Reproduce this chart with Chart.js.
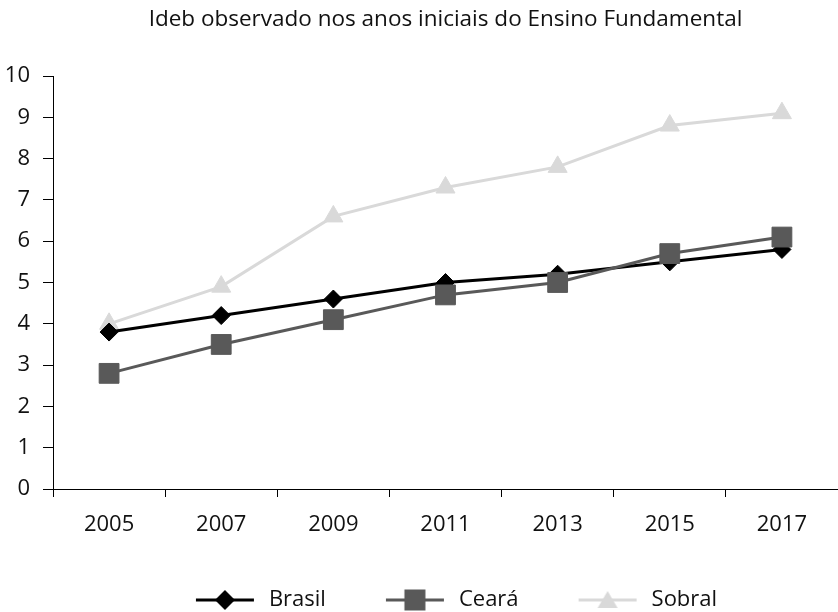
<!DOCTYPE html>
<html>
<head>
<meta charset="utf-8">
<script src="https://cdn.jsdelivr.net/npm/chart.js@4/dist/chart.umd.min.js"></script>
<style>
  html, body { margin: 0; padding: 0; background: #fff; overflow: hidden; }
  #wrap { width: 838px; height: 612px; }
</style>
</head>
<body>
<div id="wrap"><canvas id="idebChart"></canvas></div>
<script>
const years = ["2005", "2007", "2009", "2011", "2013", "2015", "2017"];
const brasil = [3.8, 4.2, 4.6, 5.0, 5.2, 5.5, 5.8];
const ceara = [2.8, 3.5, 4.1, 4.7, 5.0, 5.7, 6.1];
const sobral = [4.0, 4.9, 6.6, 7.3, 7.8, 8.8, 9.1];
const yTicks = [0, 1, 2, 3, 4, 5, 6, 7, 8, 9, 10];

const FONT = "'Open Sans', 'Noto Sans', sans-serif";

// small canvas with a line and a marker, for the legend
function legendIcon(color, shape) {
    const c = document.createElement("canvas");
    c.width = 66;
    c.height = 24;
    const g = c.getContext("2d");
    g.strokeStyle = color;
    g.lineWidth = 3;
    g.beginPath();
    g.moveTo(4, 12);
    g.lineTo(62, 12);
    g.stroke();
    g.fillStyle = color;
    g.beginPath();
    if (shape === "diamond") {
        g.moveTo(33, 2); g.lineTo(43, 12); g.lineTo(33, 22); g.lineTo(23, 12);
    } else if (shape === "square") {
        g.rect(22.5, 1.5, 21, 21);
    } else {
        g.moveTo(33, 3); g.lineTo(43, 20); g.lineTo(23, 20);
    }
    g.closePath();
    g.fill();
    return c;
}

const icons = [
    legendIcon("#000000", "diamond"),
    legendIcon("#595959", "square"),
    legendIcon("#d9d9d9", "triangle")
];

// nudge the legend a little to the right, like the original
const legendShift = {
    id: "legendShift",
    afterLayout(chart) {
        chart.legend.left += 9;
        chart.legend.right += 9;
    }
};

const ctx = document.getElementById("idebChart");

new Chart(ctx, {
    type: "line",
    data: {
        labels: years,
        datasets: [
            {
                label: "Brasil",
                data: brasil,
                borderColor: "#000000",
                backgroundColor: "#000000",
                borderWidth: 3,
                pointStyle: "rectRot",
                pointRadius: 9,
                pointBorderWidth: 1,
                order: 1
            },
            {
                label: "Ceará",
                data: ceara,
                borderColor: "#595959",
                backgroundColor: "#595959",
                borderWidth: 3,
                pointStyle: "rect",
                pointRadius: 14,
                pointBorderWidth: 1,
                order: 0
            },
            {
                label: "Sobral",
                data: sobral,
                borderColor: "#d9d9d9",
                backgroundColor: "#d9d9d9",
                borderWidth: 3,
                pointStyle: "triangle",
                pointRadius: 11,
                pointBorderWidth: 1,
                order: 2
            }
        ]
    },
    plugins: [legendShift],
    options: {
        responsive: true,
        maintainAspectRatio: false,
        animation: false,
        layout: {
            autoPadding: false,
            padding: { left: 0, right: 0, top: 0, bottom: -9 }
        },
        plugins: {
            title: {
                display: true,
                fullSize: false,
                text: "Ideb observado nos anos iniciais do Ensino Fundamental",
                color: "#111111",
                font: { family: FONT, size: 22.5, weight: "normal" },
                padding: { top: 6, bottom: 43 }
            },
            legend: {
                position: "bottom",
                fullSize: false,
                labels: {
                    usePointStyle: true,
                    pointStyleWidth: 66,
                    color: "#111111",
                    font: { family: FONT, size: 22 },
                    padding: 56,
                    generateLabels: function (chart) {
                        return chart.data.datasets.map(function (ds, i) {
                            return {
                                text: ds.label,
                                datasetIndex: i,
                                pointStyle: icons[i],
                                fillStyle: ds.backgroundColor,
                                strokeStyle: ds.borderColor,
                                lineWidth: 0,
                                fontColor: "#111111",
                                hidden: false
                            };
                        });
                    }
                }
            },
            tooltip: { enabled: false }
        },
        scales: {
            x: {
                offset: true,
                afterFit: function (axis) {
                    axis.paddingLeft = 0;
                    axis.paddingRight = 0;
                    axis.height = 44;
                },
                grid: {
                    offset: true,
                    drawOnChartArea: false,
                    drawTicks: true,
                    tickLength: 8,
                    color: "#000000"
                },
                border: { color: "#000000", width: 1 },
                ticks: {
                    color: "#111111",
                    font: { family: FONT, size: 22 },
                    padding: 15,
                    maxRotation: 0
                }
            },
            y: {
                min: 0,
                max: 10,
                afterBuildTicks: function (axis) {
                    axis.ticks = yTicks.map(function (v) { return { value: v }; });
                },
                afterFit: function (axis) {
                    axis.width = 53;
                },
                grid: {
                    drawOnChartArea: false,
                    drawTicks: true,
                    tickLength: 10,
                    color: "#000000"
                },
                border: { color: "#000000", width: 1 },
                ticks: {
                    color: "#111111",
                    font: { family: FONT, size: 22 },
                    padding: 13
                }
            }
        }
    }
});
</script>
</body>
</html>
